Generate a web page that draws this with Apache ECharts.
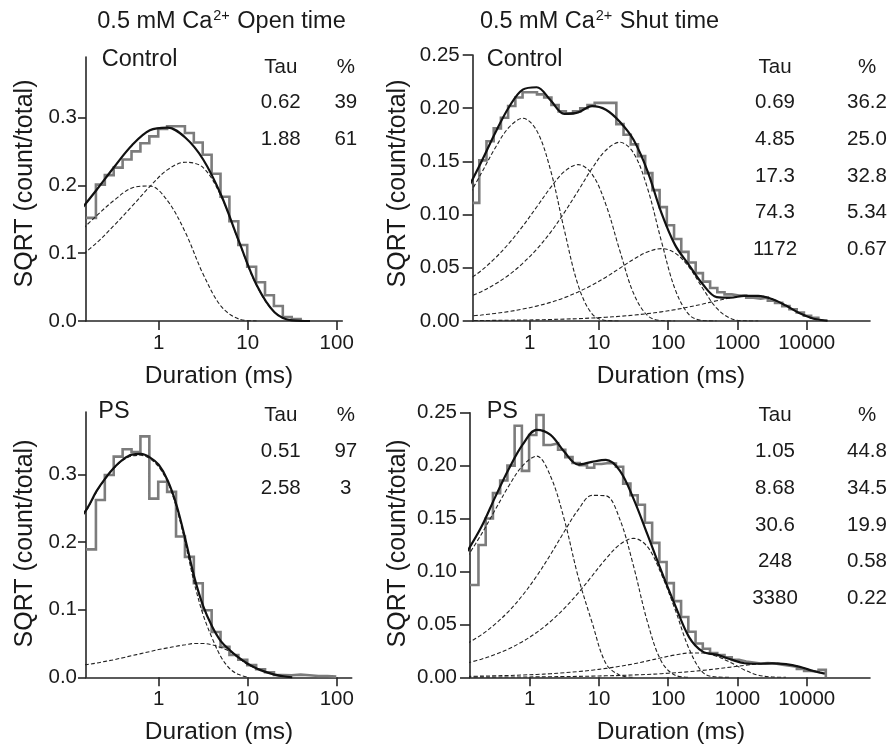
<!DOCTYPE html>
<html>
<head>
<meta charset="utf-8">
<script src="https://cdn.jsdelivr.net/npm/echarts/dist/echarts.min.js"></script>
<style>
html,body{margin:0;padding:0;background:#ffffff;}
#chart{width:890px;height:749px;}
</style>
</head>
<body>
<div id="chart"></div>
<script>
// ---------------- DATA ----------------
// Panel A: open time, Control
const openCtrlDur  = [0.126, 0.2, 0.316, 0.501, 0.794, 1.26, 2.0, 3.16, 5.01, 7.94, 12.6, 20.0, 31.6, 50.1];
const openCtrlFit  = [0.160, 0.193, 0.227, 0.259, 0.281, 0.285, 0.270, 0.238, 0.186, 0.118, 0.053, 0.013, 0.001, 0];
const openCtrlTau1 = [0.130, 0.155, 0.178, 0.196, 0.199, 0.177, 0.130, 0.069, 0.022, 0.003, 0];
const openCtrlTau2 = [0.093, 0.115, 0.141, 0.169, 0.198, 0.223, 0.234, 0.226, 0.184, 0.117, 0.052, 0.013, 0.001, 0];
const openCtrlHist = [0.152, 0.201, 0.215, 0.226, 0.238, 0.250, 0.262, 0.272, 0.283, 0.287, 0.287, 0.277, 0.263, 0.245, 0.217, 0.183, 0.147, 0.112, 0.080, 0.057, 0.038, 0.022, 0.006, 0.003];
const openCtrlBinFirstEdge = 0.197, openCtrlBinsPerDecade = 10;

// Panel B: shut time, Control
const shutCtrlDur  = [0.126, 0.2, 0.316, 0.501, 0.794, 1.26, 2.0, 3.16, 5.01, 7.94, 12.6, 20.0, 31.6, 50.1, 79.4, 126, 200, 316, 501, 794, 1259, 1995, 3162, 5012, 7943, 12589, 19953];
const shutCtrlFit  = [0.1236, 0.1494, 0.1764, 0.2009, 0.2175, 0.2197, 0.2075, 0.1947, 0.1961, 0.2020, 0.1986, 0.1873, 0.1703, 0.1411, 0.1020, 0.0713, 0.0526, 0.0345, 0.0225, 0.0219, 0.0237, 0.0237, 0.0206, 0.0145, 0.0072, 0.0021, 0.0003];
const shutCtrlTau1 = [0.1155, 0.1388, 0.1624, 0.1819, 0.1905, 0.1790, 0.1418, 0.0856, 0.0336, 0.0067, 0.0005, 0];
const shutCtrlTau2 = [0.0379, 0.0474, 0.0590, 0.0729, 0.0891, 0.1071, 0.1253, 0.1404, 0.1470, 0.1381, 0.1094, 0.0661, 0.0260, 0.0052, 0.0004, 0];
const shutCtrlTau3 = [0.0219, 0.0276, 0.0346, 0.0433, 0.0542, 0.0674, 0.0833, 0.1019, 0.1224, 0.1433, 0.1605, 0.1680, 0.1579, 0.1250, 0.0755, 0.0297, 0.0059, 0.0004, 0];
const shutCtrlTau4 = [0.0045, 0.0056, 0.0071, 0.0089, 0.0112, 0.0140, 0.0175, 0.0219, 0.0273, 0.0337, 0.0412, 0.0496, 0.0580, 0.0649, 0.0680, 0.0639, 0.0506, 0.0306, 0.0120, 0.0024, 0.0002, 0];
const shutCtrlTau5 = [0.0004, 0.0004, 0.0006, 0.0007, 0.0009, 0.0011, 0.0014, 0.0018, 0.0022, 0.0028, 0.0035, 0.0044, 0.0055, 0.0069, 0.0086, 0.0107, 0.0132, 0.0160, 0.0190, 0.0218, 0.0237, 0.0237, 0.0206, 0.0145, 0.0072, 0.0021, 0.0003];
const shutCtrlHist = [0.111, 0.151, 0.169, 0.181, 0.191, 0.202, 0.210, 0.215, 0.215, 0.213, 0.210, 0.203, 0.197, 0.195, 0.197, 0.200, 0.203, 0.205, 0.205, 0.205, 0.185, 0.175, 0.166, 0.155, 0.139, 0.123, 0.107, 0.090, 0.077, 0.065, 0.055, 0.045, 0.037, 0.031, 0.027, 0.025, 0.024, 0.024, 0.022, 0.021, 0.022, 0.019, 0.017, 0.014, 0.011, 0.008, 0.005, 0.003];
const shutCtrlBinFirstEdge = 0.187, shutCtrlBinsPerDecade = 9.6;

// Panel C: open time, PS
const openPsDur  = [0.126, 0.158, 0.2, 0.251, 0.316, 0.398, 0.501, 0.631, 0.794, 1, 1.26, 1.58, 2.0, 2.51, 3.16, 3.98, 5.01, 6.31, 7.94, 10, 12.6, 15.8, 20, 25.1, 31.6];
const openPsFit  = [0.232, 0.250, 0.275, 0.294, 0.310, 0.322, 0.329, 0.330, 0.325, 0.314, 0.291, 0.255, 0.203, 0.148, 0.105, 0.075, 0.053, 0.040, 0.029, 0.020, 0.013, 0.008, 0.004, 0.0015, 0];
const openPsTau1 = [0.231, 0.249, 0.274, 0.293, 0.309, 0.321, 0.327, 0.328, 0.323, 0.311, 0.288, 0.251, 0.197, 0.139, 0.092, 0.058, 0.030, 0.0125, 0.004, 0];
const openPsTau2 = [0.017, 0.019, 0.021, 0.0235, 0.026, 0.029, 0.032, 0.035, 0.038, 0.041, 0.0435, 0.046, 0.048, 0.050, 0.050, 0.048, 0.044, 0.038, 0.028, 0.019, 0.013, 0.008, 0.004, 0.0015, 0];
const openPsHist = [0.189, 0.262, 0.299, 0.326, 0.337, 0.333, 0.356, 0.264, 0.289, 0.274, 0.208, 0.178, 0.139, 0.099, 0.067, 0.045, 0.033, 0.026, 0.018, 0.012, 0.0074, 0.0034, 0.003, 0.004, 0.003, 0.002, 0.002, 0.001];
const openPsBinFirstEdge = 0.197, openPsBinsPerDecade = 10;

// Panel D: shut time, PS
const shutPsDur  = [0.126, 0.2, 0.316, 0.501, 0.794, 1.26, 2.0, 3.16, 5.01, 7.94, 12.6, 20.0, 31.6, 50.1, 79.4, 126, 200, 316, 501, 794, 1259, 1995, 3162, 5012, 7943, 12589, 18200];
const shutPsFit  = [0.1192, 0.1419, 0.170, 0.197, 0.220, 0.2337, 0.229, 0.213, 0.201, 0.2036, 0.2054, 0.1953, 0.1686, 0.1350, 0.1006, 0.068, 0.038, 0.0242, 0.0214, 0.0170, 0.0133, 0.0128, 0.0132, 0.0124, 0.0098, 0.0059, 0.0035];
const shutPsTau1 = [0.114, 0.135, 0.158, 0.181, 0.200, 0.209, 0.190, 0.149, 0.095, 0.052, 0.013, 0.002, 0];
const shutPsTau2 = [0.0320, 0.0401, 0.0502, 0.0626, 0.0777, 0.0956, 0.1160, 0.1377, 0.1582, 0.1719, 0.1715, 0.1494, 0.1050, 0.0524, 0.0152, 0.0019, 0];
const shutPsTau3 = [0.0136, 0.0171, 0.0215, 0.0270, 0.0339, 0.0423, 0.0527, 0.0651, 0.0796, 0.0957, 0.1120, 0.1254, 0.1313, 0.1234, 0.0977, 0.0640, 0.0270, 0.0046, 0.0003, 0];
const shutPsTau4 = [0.0009, 0.0011, 0.0014, 0.0017, 0.0022, 0.0027, 0.0034, 0.0043, 0.0054, 0.0067, 0.0084, 0.0104, 0.0127, 0.0155, 0.0184, 0.0211, 0.0229, 0.0229, 0.0199, 0.0140, 0.0070, 0.0020, 0.0003, 0];
const shutPsTau5 = [0.0001, 0.0002, 0.0002, 0.0003, 0.0003, 0.0004, 0.0005, 0.0007, 0.0009, 0.0011, 0.0014, 0.0017, 0.0022, 0.0027, 0.0034, 0.0043, 0.0053, 0.0065, 0.0080, 0.0096, 0.0113, 0.0126, 0.0132, 0.0124, 0.0098, 0.0059, 0.0035];
const shutPsHist = [0.0872, 0.125, 0.150, 0.174, 0.186, 0.200, 0.2377, 0.195, 0.229, 0.2478, 0.2195, 0.221, 0.215, 0.208, 0.2025, 0.2005, 0.198, 0.2015, 0.2025, 0.202, 0.199, 0.183, 0.172, 0.163, 0.146, 0.127, 0.109, 0.089, 0.072, 0.057, 0.043, 0.032, 0.027, 0.023, 0.021, 0.019, 0.0165, 0.015, 0.014, 0.013, 0.0135, 0.013, 0.012, 0.011, 0.010, 0.008, 0.006, 0.005, 0.007];
const shutPsBinFirstEdge = 0.182, shutPsBinsPerDecade = 9.57;

// Tick values and text
const openXTicks = [1, 10, 100];
const shutXTicks = [1, 10, 100, 1000, 10000];
const openYTicks = [0, 0.1, 0.2, 0.3];
const shutYTicks = [0, 0.05, 0.1, 0.15, 0.2, 0.25];
const openCtrlTau = ['0.62', '1.88'],  openCtrlPct = ['39', '61'];
const openPsTau   = ['0.51', '2.58'],  openPsPct   = ['97', '3'];
const shutCtrlTau = ['0.69', '4.85', '17.3', '74.3', '1172'], shutCtrlPct = ['36.2', '25.0', '32.8', '5.34', '0.67'];
const shutPsTau   = ['1.05', '8.68', '30.6', '248', '3380'],  shutPsPct   = ['44.8', '34.5', '19.9', '0.58', '0.22'];

// ---------------- BUILD ----------------
const FONT = '"Liberation Sans", Arial, Helvetica, sans-serif';
const INK = '#1a1a1a';
const AXIS = '#262626';

function curve(dur, vals) { return vals.map((v, i) => [dur[i], v]); }
function hist(start, firstEdge, perDecade, vals) {
  const edge = k => (k === 0 ? start : firstEdge * Math.pow(10, (k - 1) / perDecade));
  const pts = vals.map((v, i) => [edge(i), v]);
  pts.push([edge(vals.length), 0]);
  return pts;
}

const panels = [
  { grid: {left: 86, top: 57, width: 256.3, height: 264}, xmin: 0.1524, xmax: 115.6, ymax: 0.389,
    xTicks: openXTicks, yTicks: openYTicks, yDig: 1, yMargin: 9, yTickLen: 8,
    hist: hist(0.1524, openCtrlBinFirstEdge, openCtrlBinsPerDecade, openCtrlHist),
    comps: [curve(openCtrlDur, openCtrlTau1), curve(openCtrlDur, openCtrlTau2)],
    fit: curve(openCtrlDur, openCtrlFit) },
  { grid: {left: 472.7, top: 55, width: 397.3, height: 266}, xmin: 0.1503, xmax: 82000, ymax: 0.25,
    xTicks: shutXTicks, yTicks: shutYTicks, yDig: 2, yMargin: 13, yTickLen: 10,
    hist: hist(0.1503, shutCtrlBinFirstEdge, shutCtrlBinsPerDecade, shutCtrlHist),
    comps: [curve(shutCtrlDur, shutCtrlTau1), curve(shutCtrlDur, shutCtrlTau2), curve(shutCtrlDur, shutCtrlTau3),
            curve(shutCtrlDur, shutCtrlTau4), curve(shutCtrlDur, shutCtrlTau5)],
    fit: curve(shutCtrlDur, shutCtrlFit) },
  { grid: {left: 86, top: 412, width: 265.7, height: 265.3}, xmin: 0.1524, xmax: 147.2, ymax: 0.392,
    xTicks: openXTicks, yTicks: openYTicks, yDig: 1, yMargin: 9, yTickLen: 8,
    hist: hist(0.1524, openPsBinFirstEdge, openPsBinsPerDecade, openPsHist),
    comps: [curve(openPsDur, openPsTau1), curve(openPsDur, openPsTau2)],
    fit: curve(openPsDur, openPsFit) },
  { grid: {left: 470, top: 412.7, width: 400, height: 264.6}, xmin: 0.1374, xmax: 82000, ymax: 0.25,
    xTicks: shutXTicks, yTicks: shutYTicks, yDig: 2, yMargin: 13, yTickLen: 10,
    hist: hist(0.1374, shutPsBinFirstEdge, shutPsBinsPerDecade, shutPsHist),
    comps: [curve(shutPsDur, shutPsTau1), curve(shutPsDur, shutPsTau2), curve(shutPsDur, shutPsTau3),
            curve(shutPsDur, shutPsTau4), curve(shutPsDur, shutPsTau5)],
    fit: curve(shutPsDur, shutPsFit) }
];

const grids = [], xAxes = [], yAxes = [], series = [];
panels.forEach((p, i) => {
  grids.push(Object.assign({containLabel: false, outerBoundsMode: 'none'}, p.grid));
  xAxes.push({
    type: 'log', logBase: 10, gridIndex: i, min: p.xmin, max: p.xmax,
    splitLine: {show: false}, minorTick: {show: false}, minorSplitLine: {show: false},
    axisLine: {show: true, onZero: false, lineStyle: {color: AXIS, width: 1.6}},
    axisTick: {show: true, inside: false, length: 9, customValues: p.xTicks, lineStyle: {color: AXIS, width: 1.6}},
    axisLabel: {show: true, customValues: p.xTicks, margin: 12, fontSize: 20.5, fontFamily: FONT, color: INK,
                formatter: v => String(Math.round(v))}
  });
  yAxes.push({
    type: 'value', gridIndex: i, min: 0, max: p.ymax,
    splitLine: {show: false},
    axisLine: {show: true, onZero: false, lineStyle: {color: AXIS, width: 1.6}},
    axisTick: {show: true, inside: false, length: p.yTickLen, customValues: p.yTicks, lineStyle: {color: AXIS, width: 1.6}},
    axisLabel: {show: true, customValues: p.yTicks, margin: p.yMargin, fontSize: 20.5, fontFamily: FONT, color: INK,
                formatter: v => Number(v).toFixed(p.yDig)}
  });
  series.push({
    type: 'line', xAxisIndex: i, yAxisIndex: i, data: p.hist, step: 'end', symbol: 'none', clip: true,
    lineStyle: {color: '#7c7c7c', width: 2.6, join: 'miter', cap: 'butt'}, z: 2, silent: true
  });
  p.comps.forEach(c => series.push({
    type: 'line', xAxisIndex: i, yAxisIndex: i, data: c, smooth: 0.35, symbol: 'none', clip: true,
    lineStyle: {color: '#222222', width: 1.1, type: [4, 2.2]}, z: 3, silent: true
  }));
  series.push({
    type: 'line', xAxisIndex: i, yAxisIndex: i, data: p.fit, smooth: 0.35, symbol: 'none', clip: true,
    lineStyle: {color: '#111111', width: 2.2}, z: 4, silent: true
  });
});

function txt(x, y, text, size, align, extra) {
  return Object.assign({
    type: 'text', x: x, y: y, silent: true,
    style: Object.assign({text: text, fontSize: size, fontFamily: FONT, fill: INK,
                          align: align || 'center', verticalAlign: 'middle'}, (extra && extra.style) || {})
  }, extra && extra.rotation !== undefined ? {rotation: extra.rotation} : {});
}
const graphics = [];
const titleRich = {
  m: {fontSize: 23.5, fontFamily: FONT, fill: INK, lineHeight: 27},
  s: {fontSize: 14.5, fontFamily: FONT, fill: INK, lineHeight: 14, verticalAlign: 'top', padding: [0, 1, 0, 1]}
};
graphics.push({type: 'text', x: 221.5, y: 22, silent: true,
  style: {text: '{m|0.5 mM Ca}{s|2+}{m| Open time}', rich: titleRich, align: 'center', verticalAlign: 'middle'}});
graphics.push({type: 'text', x: 599.5, y: 22, silent: true,
  style: {text: '{m|0.5 mM Ca}{s|2+}{m| Shut time}', rich: titleRich, align: 'center', verticalAlign: 'middle'}});

graphics.push(txt(101.7, 60, 'Control', 23.5, 'left'));
graphics.push(txt(486.7, 60, 'Control', 23.5, 'left'));
graphics.push(txt(98.3, 412, 'PS', 23.5, 'left'));
graphics.push(txt(486.7, 412, 'PS', 23.5, 'left'));

[[219, 376], [671, 376], [219, 732], [671, 732]].forEach(q => graphics.push(txt(q[0], q[1], 'Duration (ms)', 24.5)));
[[25, 183.5], [398, 183.5], [25, 543.5], [398, 543.5]].forEach(q =>
  graphics.push(txt(q[0], q[1], 'SQRT (count/total)', 25, 'center', {rotation: Math.PI / 2})));

function table(xTau, xPct, yHead, rowGap, taus, pcts) {
  graphics.push(txt(xTau, yHead, 'Tau', 20.5));
  graphics.push(txt(xPct, yHead, '%', 20.5));
  taus.forEach((t, k) => {
    const y = yHead + 35.8 + rowGap * k;
    graphics.push(txt(xTau, y, t, 20.5));
    graphics.push(txt(xPct, y, pcts[k], 20.5));
  });
}
table(280.8, 345.8, 67, 36.6, openCtrlTau, openCtrlPct);
table(775, 867, 67, 36.6, shutCtrlTau, shutCtrlPct);
table(280.8, 345.8, 415.8, 37.2, openPsTau, openPsPct);
table(775, 867, 415.8, 36.7, shutPsTau, shutPsPct);

const chart = echarts.init(document.getElementById('chart'), null, {renderer: 'canvas'});
chart.setOption({
  animation: false,
  backgroundColor: '#ffffff',
  grid: grids, xAxis: xAxes, yAxis: yAxes, series: series,
  graphic: graphics
});
</script>
</body>
</html>
